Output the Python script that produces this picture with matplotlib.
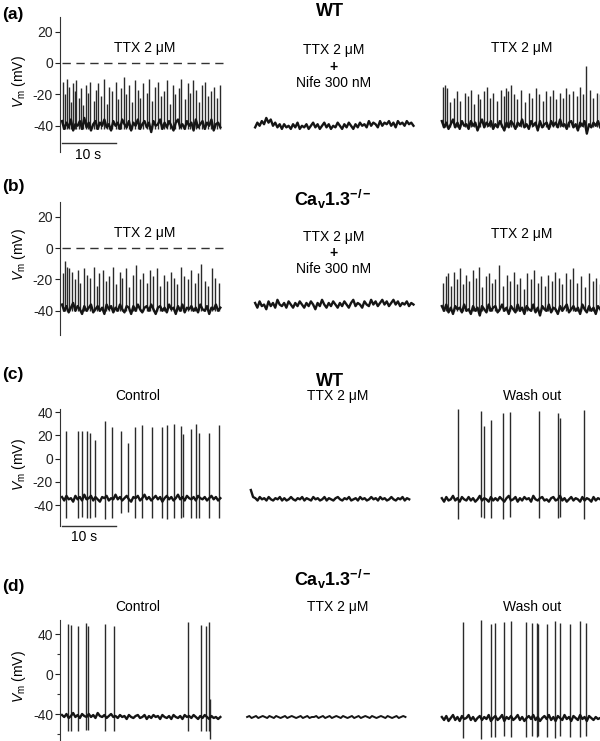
import numpy as np
import matplotlib
matplotlib.use('Agg')
import matplotlib.pyplot as plt

plt.rcParams['font.family'] = ['Liberation Sans', 'DejaVu Sans']
plt.rcParams['mathtext.fontset'] = 'custom'
plt.rcParams['mathtext.rm'] = 'Liberation Sans'
plt.rcParams['mathtext.it'] = 'Liberation Sans:italic'
plt.rcParams['mathtext.bf'] = 'Liberation Sans:bold'
plt.rcParams['axes.unicode_minus'] = False

# ---- data (mV, s) ----
seg_dur = 29.6
a_offsets = [0, 36.1, 71.0]
b_offsets = [0, 36.1, 71.0]
c_offsets = [0, 35.3, 71.0]
d_offsets = [0, 34.6, 71.0]

# baseline membrane potential
a1_base = [-37,-42,-38,-41,-36,-43,-39,-40,-37,-42,-35,-41, -38,-43,-39,-37,-42,-38,-40,-36,-41,-39,-43,-37,
           -40,-38,-42,-36,-39,-41,-37,-43,-38,-40,-36,-42, -39,-37,-41,-38,-44,-37,-40,-39,-36,-42,-38,-41,
           -37,-40,-43,-38,-36,-41,-39,-42,-37,-40,-38,-43, -36,-41,-39,-37,-42,-38,-40,-36,-43,-39,-38,-41]
a2_base = [-41,-38,-40,-37,-39,-35,-38,-36,-40,-38,-41,-39, -42,-39,-41,-40,-42,-39,-41,-38,-42,-40,-41,-39,
           -42,-40,-38,-41,-39,-42,-40,-38,-41,-39,-42,-40, -41,-38,-40,-42,-39,-41,-38,-40,-42,-39,-41,-38,
           -40,-39,-41,-37,-40,-38,-39,-41,-37,-40,-38,-39, -37,-40,-38,-41,-37,-39,-38,-40,-37,-39,-38,-40]
a3_base = [-37,-41,-38,-42,-39,-36,-41,-38,-42,-37,-40,-39, -42,-37,-40,-38,-43,-39,-36,-41,-38,-40,-37,-42,
           -39,-41,-37,-40,-43,-38,-41,-37,-39,-42,-38,-40, -36,-41,-39,-42,-37,-40,-38,-43,-37,-41,-39,-38,
           -42,-37,-40,-38,-41,-36,-40,-39,-42,-38,-37,-41, -39,-43,-38,-40,-37,-45,-39,-41,-38,-40,-37,-41]
b1_base = [-36,-40,-37,-41,-38,-35,-40,-37,-39,-42,-37,-40, -38,-36,-41,-39,-37,-40,-38,-42,-36,-39,-37,-41,
           -38,-40,-36,-39,-41,-37,-38,-42,-37,-40,-36,-39, -41,-38,-37,-40,-36,-39,-42,-38,-37,-40,-38,-41,
           -36,-39,-38,-42,-37,-40,-36,-41,-38,-39,-37,-40, -38,-41,-36,-39,-40,-37,-42,-38,-39,-36,-40,-38]
b2_base = [-35,-38,-34,-37,-36,-39,-34,-37,-35,-38,-33,-36, -37,-35,-38,-34,-36,-38,-35,-37,-34,-36,-38,-35,
           -37,-34,-36,-39,-35,-37,-33,-36,-38,-35,-37,-34, -36,-38,-35,-37,-34,-36,-38,-35,-33,-37,-35,-36,
           -38,-34,-36,-37,-33,-36,-34,-37,-35,-33,-36,-34, -37,-35,-33,-36,-34,-37,-35,-36,-34,-37,-35,-36]
b3_base = [-37,-40,-36,-41,-38,-42,-37,-39,-38,-41,-36,-40, -39,-42,-37,-40,-38,-43,-37,-39,-41,-36,-40,-38,
           -37,-41,-39,-36,-40,-38,-42,-37,-39,-41,-36,-40, -38,-42,-37,-39,-40,-36,-41,-38,-43,-37,-39,-40,
           -36,-41,-38,-39,-42,-37,-40,-38,-36,-41,-39,-37, -40,-38,-42,-36,-39,-41,-37,-40,-38,-42,-37,-39]
c1_base = [-33,-36,-32,-35,-34,-37,-32,-35,-33,-36,-31,-35, -34,-32,-36,-33,-35,-37,-33,-34,-32,-36,-34,-35,
           -31,-35,-33,-36,-34,-32,-35,-37,-33,-34,-32,-36, -34,-31,-35,-33,-36,-34,-32,-35,-33,-37,-34,-32,
           -35,-33,-36,-34,-31,-35,-33,-36,-32,-34,-35,-33, -36,-32,-34,-35,-33,-36,-34,-32,-35,-33,-36,-34]
c2_base = [-27,-33,-34,-36,-33,-35,-34,-36,-33,-35,-36,-34, -35,-33,-36,-34,-36,-35,-33,-35,-36,-34,-35,-33,
           -36,-34,-35,-36,-33,-35,-34,-36,-35,-33,-36,-34, -35,-36,-34,-33,-35,-36,-34,-35,-33,-36,-35,-34,
           -36,-33,-35,-34,-36,-35,-33,-35,-34,-36,-33,-35, -34,-36,-35,-33,-35,-36,-34,-35,-33,-36,-34,-35]
c3_base = [-34,-37,-33,-36,-35,-32,-36,-34,-37,-33,-35,-36, -33,-36,-34,-37,-35,-32,-36,-34,-35,-37,-33,-36,
           -34,-36,-33,-35,-37,-34,-32,-36,-35,-33,-37,-34, -36,-33,-35,-34,-37,-32,-35,-36,-34,-33,-36,-35,
           -37,-34,-33,-36,-35,-32,-36,-34,-37,-35,-33,-36, -34,-35,-37,-33,-36,-34,-35,-37,-33,-36,-34,-35]
d1_base = [-41,-43,-40,-44,-42,-39,-43,-41,-44,-40,-42,-43, -40,-43,-41,-44,-39,-42,-43,-41,-44,-42,-40,-43,
           -42,-44,-41,-43,-42,-45,-41,-43,-44,-42,-41,-44, -43,-41,-45,-42,-44,-41,-43,-42,-45,-41,-43,-44,
           -42,-45,-41,-43,-44,-42,-45,-41,-43,-42,-44,-41, -43,-45,-42,-44,-41,-43,-45,-42,-44,-43,-45,-43]
d2_base = [-43,-42,-44,-43,-42,-44,-43,-42,-43,-44,-42,-43, -44,-42,-43,-44,-43,-42,-44,-43,-42,-43,-44,-43,
           -42,-44,-43,-42,-44,-43,-43,-42,-44,-43,-42,-44, -43,-42,-44,-43,-42,-43,-44,-42,-43,-44,-43,-42,
           -44,-43,-42,-44,-43,-42,-43,-44,-42,-43,-44,-43, -42,-43,-44,-42,-43,-44,-43,-42,-44,-43,-42,-43]
d3_base = [-43,-46,-42,-47,-44,-41,-46,-43,-47,-42,-45,-44, -41,-46,-43,-47,-44,-42,-46,-43,-45,-41,-47,-44,
           -42,-46,-44,-41,-47,-43,-45,-42,-46,-44,-41,-46, -43,-47,-44,-42,-45,-41,-46,-43,-47,-44,-42,-45,
           -41,-46,-43,-47,-42,-44,-46,-41,-45,-43,-47,-42, -44,-46,-41,-45,-43,-47,-42,-44,-46,-43,-45,-44]

# spike times within a sweep (s) and their peaks / troughs (mV)
a1_t = [0.2,0.5,0.9,1.3,1.6,2.0,2.4,2.7,3.2,3.6,4.0,4.5,4.9,5.3,5.9,6.4,6.8,7.3,7.9,8.4,8.8,9.4,10.0,10.5,
        11.1,11.6,12.0,12.6,13.1,13.7,14.2,14.6,15.2,15.8,16.3,16.9,17.4,17.9,18.5,19.1,19.6,20.2,20.7,21.2,
        21.8,22.3,22.9,23.5,24.0,24.5,25.1,25.6,26.2,26.8,27.3,27.9,28.4,29.0,29.5]
a1_peak = [-12,-20,-10,-15,-25,-13,-18,-11,-22,-16,-27,-14,-19,-12,-24,-17,-13,-21,-10,-26,-15,-18,-12,-23,
           -16,-9,-20,-14,-25,-11,-17,-22,-13,-19,-10,-24,-15,-12,-21,-18,-11,-26,-14,-20,-16,-10,-23,-13,
           -19,-11,-17,-25,-14,-12,-21,-18,-15,-22,-14]
a1_low = -42
a3_t = [0.3,0.6,0.9,1.5,2.2,2.9,3.4,4.3,4.8,5.5,6.1,6.8,7.2,7.9,8.5,9.0,9.6,10.3,11.1,11.7,12.0,12.4,12.9,
        13.5,14.1,14.8,15.6,16.3,16.9,17.6,18.2,18.9,19.5,20.2,20.8,21.3,22.0,22.6,23.2,23.8,24.5,25.2,25.9,
        26.4,27.0,27.6,28.3,29.0,29.6]
a3_peak = [-15,-14,-16,-25,-22,-18,-24,-19,-21,-17,-26,-20,-23,-18,-15,-22,-19,-24,-17,-21,-16,-18,-14,-20,
           -23,-17,-25,-19,-22,-16,-20,-24,-18,-21,-17,-23,-19,-22,-16,-20,-18,-21,-15,-20,-2,-17,-22,-19,-20]
a3_low = -41
b1_t = [0.2,0.6,1.0,1.4,1.9,2.5,3.0,3.4,4.1,4.7,5.2,5.9,6.5,7.0,7.6,8.3,8.8,9.5,10.1,10.8,11.3,12.0,12.6,
        13.2,13.9,14.5,15.1,15.8,16.4,17.0,17.7,18.3,19.0,19.6,20.3,20.9,21.5,22.2,22.8,23.5,24.1,24.8,25.4,
        26.0,26.7,27.3,28.0,28.6,29.3]
b1_peak = [-16,-8,-12,-13,-15,-20,-14,-22,-13,-17,-19,-12,-24,-16,-14,-21,-18,-12,-23,-15,-19,-13,-25,-17,
           -11,-20,-16,-22,-14,-18,-13,-24,-17,-21,-15,-19,-23,-12,-18,-20,-14,-22,-16,-10,-21,-24,-13,-19,-22]
b1_low = -40
b3_t = [0.3,0.8,1.2,1.8,2.3,2.9,3.3,4.0,4.6,5.1,5.8,6.4,7.0,7.5,8.2,8.9,9.4,10.0,10.7,11.4,12.1,12.8,13.4,
        14.0,14.7,15.3,16.0,16.6,17.3,18.0,18.6,19.2,19.9,20.6,21.2,21.9,22.5,23.2,23.9,24.6,25.3,26.0,26.8,
        27.5,28.2,28.9,29.5]
b3_peak = [-22,-18,-16,-24,-15,-20,-13,-23,-17,-21,-14,-19,-12,-25,-18,-16,-22,-20,-11,-24,-17,-21,-15,-23,
           -19,-26,-16,-20,-14,-22,-18,-24,-17,-21,-15,-19,-23,-16,-20,-13,-22,-18,-25,-16,-21,-19,-23]
b3_low = -40

c1_t = [0.75,2.9,3.7,4.7,5.2,6.1,8.0,9.4,11.0,12.4,13.6,15.0,16.9,18.7,19.6,21.0,22.3,22.6,24.2,25.0,25.7,
        27.5,29.4]
c1_peak = [24,24,24,24,22,16,32,27,24,13,27,29,27,27,29,30,28,21,25,30,22,22,29]
c1_trough = [-51,-51,-50,-51,-51,-50,-52,-51,-47,-46,-51,-51,-51,-51,-52,-51,-51,-50,-51,-51,-51,-51,-51]
c3_t = [3.1,7.4,7.8,9.2,11.5,12.8,18.2,21.8,22.1,26.6,29.7]
c3_peak = [43,41,28,33,39,40,41,39,35,42,43]
c3_trough = [-52,-50,-51,-51,-52,-50,-51,-51,-50,-52,-51]
d1_t = [1.1,1.6,3.0,4.5,4.8,8.1,9.8,23.5,26.0,27.0,27.4,27.7]
d1_peak = [50,49,48,51,48,50,48,52,49,48,52,-25]
d1_trough = [-57,-57,-57,-56,-56,-57,-57,-57,-57,-57,-57,-65]
d3_t = [4.0,7.4,9.2,10.0,11.6,12.9,15.8,16.9,17.7,18.0,19.6,21.1,22.1,24.0,25.8,27.0]
d3_peak = [52,54,50,51,52,53,52,51,51,50,50,53,51,50,53,51]
d3_trough = [-64,-65,-63,-63,-62,-63,-63,-62,-63,-62,-63,-64,-62,-63,-63,-62]

# ---- layout helpers (pixel based) ----
W, H = 600, 741
PX_PER_S = 5.35
X0 = (60 - 62) / PX_PER_S
X1 = (600 - 62) / PX_PER_S
TRACE = '#151515'

fig = plt.figure(figsize=(W / 100, H / 100), dpi=100)


def txt(x, y, s, **kw):
    kw.setdefault('ha', 'center')
    kw.setdefault('va', 'center')
    kw.setdefault('fontsize', 10)
    fig.text(x / W, 1 - y / H, s, **kw)


def make_ax(top, bot, ylo, yhi, ticks, minor=()):
    ax = fig.add_axes([60 / W, 1 - bot / H, 540 / W, (bot - top) / H])
    ax.set_xlim(X0, X1)
    ax.set_ylim(ylo, yhi)
    for s in ['top', 'right', 'bottom']:
        ax.spines[s].set_visible(False)
    ax.spines['left'].set_linewidth(0.8)
    ax.spines['left'].set_color('#333333')
    ax.set_xticks([])
    ax.set_yticks(ticks)
    ax.set_yticks(list(minor), minor=True)
    ax.tick_params(axis='y', which='major', direction='out', length=3.5, width=0.8,
                   pad=1.5, labelsize=10, colors='#222222')
    ax.tick_params(axis='y', which='minor', direction='out', length=2.5, width=0.8, colors='#333333')
    ax.patch.set_visible(False)
    return ax


def base(ax, off, vals, lw=1.7):
    x = off + np.linspace(0, seg_dur, len(vals))
    ax.plot(x, vals, color=TRACE, lw=lw)


def spikes(ax, off, t, lo, hi, lw=1.0, color='#2a2a2a'):
    ax.vlines(np.asarray(t) + off, lo, hi, color=color, lw=lw)


# panel (a)
ax = make_ax(17, 152, -56.7, 29.3, [20, 0, -20, -40])
ax.plot([0, 30], [0, 0], color='#333333', lw=1, dashes=[6, 4])
spikes(ax, a_offsets[0], a1_t, a1_low, a1_peak)
base(ax, a_offsets[0], a1_base)
base(ax, a_offsets[1], a2_base)
spikes(ax, a_offsets[2], a3_t, a3_low, a3_peak)
base(ax, a_offsets[2], a3_base)
ax.plot([0, 10], [-50.8, -50.8], color='#333333', lw=1)

# panel (b)
ax = make_ax(202, 335, -55.4, 29.3, [20, 0, -20, -40])
ax.plot([0, 30], [0, 0], color='#333333', lw=1, dashes=[6, 4])
spikes(ax, b_offsets[0], b1_t, b1_low, b1_peak)
base(ax, b_offsets[0], b1_base)
base(ax, b_offsets[1], b2_base)
spikes(ax, b_offsets[2], b3_t, b3_low, b3_peak)
base(ax, b_offsets[2], b3_base)

# panel (c)
ax = make_ax(409, 526, -57.9, 42.6, [40, 20, 0, -20, -40])
spikes(ax, c_offsets[0], c1_t, c1_trough, c1_peak)
base(ax, c_offsets[0], c1_base)
base(ax, c_offsets[1], c2_base)
spikes(ax, c_offsets[2], c3_t, c3_trough, c3_peak)
base(ax, c_offsets[2], c3_base)
ax.plot([0, 10], [-57.5, -57.5], color='#333333', lw=1, clip_on=False)

# panel (d)
ax = make_ax(620, 741, -67, 54, [40, 0, -40], minor=[20, -20, -60])
spikes(ax, d_offsets[0], d1_t, d1_trough, d1_peak)
base(ax, d_offsets[0], d1_base)
base(ax, d_offsets[1], d2_base, lw=1.4)
spikes(ax, d_offsets[2], d3_t, d3_trough, d3_peak)
base(ax, d_offsets[2], d3_base)

# ---- labels ----
ylab = r'$V_\mathrm{m}$ (mV)'
for yc in [82, 255, 465, 677]:
    txt(19, yc, ylab, rotation=90)

panel_letters = ['(a)', '(b)', '(c)', '(d)']
for s, yc in zip(panel_letters, [15, 187, 374, 587]):
    txt(2, yc, s, ha='left', fontsize=12.5, fontweight='bold')

ttx = 'TTX 2 \u03bcM'
ko = r'Ca$_\mathbf{v}$1.3$^{\mathbf{-/-}}$'
txt(330, 12, 'WT', fontsize=13, fontweight='bold')
txt(145, 48, ttx)
txt(334, 50, ttx)
txt(334, 67, '+', fontweight='bold')
txt(334, 83, 'Nife 300 nM')
txt(522, 48, ttx)
txt(88, 155, '10 s')

txt(333, 199, ko, fontsize=13, fontweight='bold')
txt(145, 233, ttx)
txt(334, 237, ttx)
txt(334, 253, '+', fontweight='bold')
txt(334, 269, 'Nife 300 nM')
txt(522, 234, ttx)

txt(330, 382, 'WT', fontsize=13, fontweight='bold')
txt(138, 396, 'Control')
txt(338, 396, ttx)
txt(532, 396, 'Wash out')
txt(84, 537, '10 s')

txt(333, 579, ko, fontsize=13, fontweight='bold')
txt(138, 607, 'Control')
txt(338, 607, ttx)
txt(532, 607, 'Wash out')

fig.savefig('out.png', dpi=100)
